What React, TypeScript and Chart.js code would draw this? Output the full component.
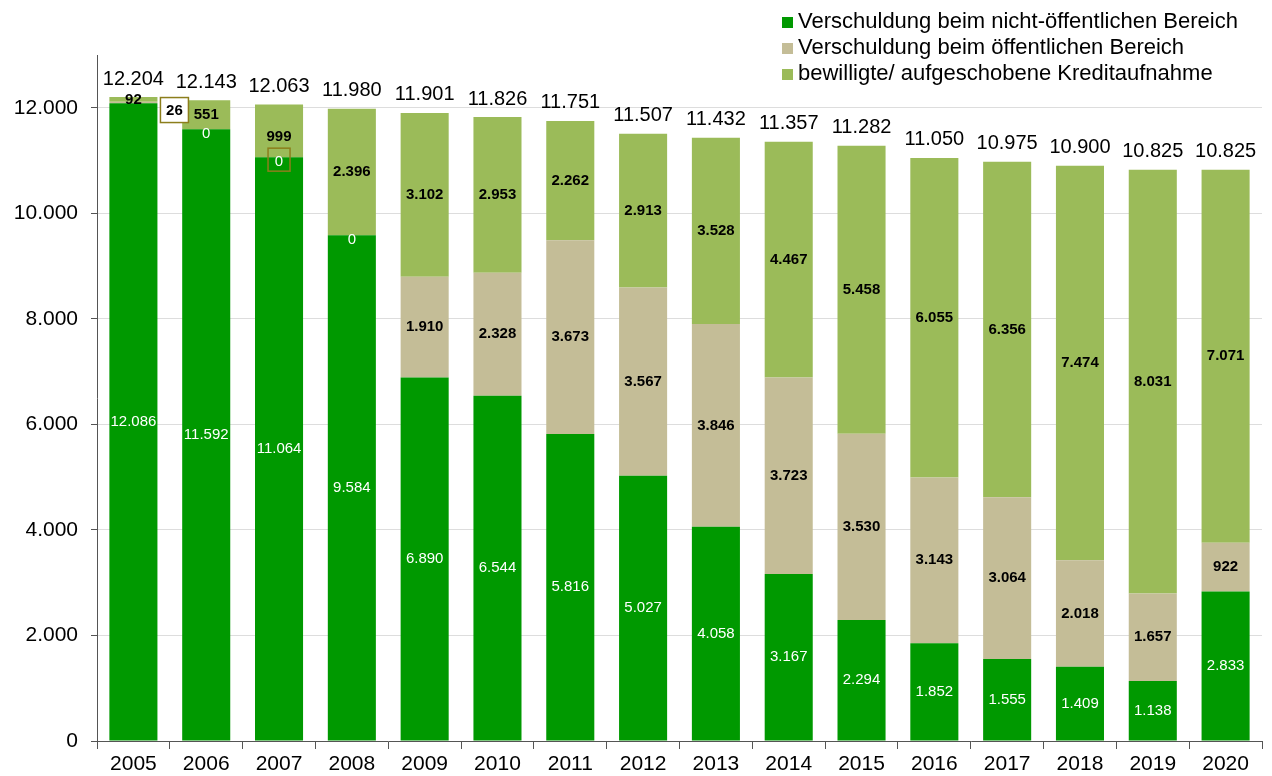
import React, { useEffect, useRef } from "react";
import { Chart, registerables } from "chart.js";

Chart.register(...registerables);

const years = ["2005", "2006", "2007", "2008", "2009", "2010", "2011", "2012", "2013", "2014", "2015", "2016", "2017", "2018", "2019", "2020"];
const nichtOeffentlich = [12086, 11592, 11064, 9584, 6890, 6544, 5816, 5027, 4058, 3167, 2294, 1852, 1555, 1409, 1138, 2833];
const oeffentlich = [26, 0, 0, 0, 1910, 2328, 3673, 3567, 3846, 3723, 3530, 3143, 3064, 2018, 1657, 922];
const bewilligt = [92, 551, 999, 2396, 3102, 2953, 2262, 2913, 3528, 4467, 5458, 6055, 6356, 7474, 8031, 7071];
const totals = [12204, 12143, 12063, 11980, 11901, 11826, 11751, 11507, 11432, 11357, 11282, 11050, 10975, 10900, 10825, 10825];
const yTickValues = [0, 2000, 4000, 6000, 8000, 10000, 12000];
const seriesNames = [
  "Verschuldung beim nicht-öffentlichen Bereich",
  "Verschuldung beim öffentlichen Bereich",
  "bewilligte/ aufgeschobene Kreditaufnahme",
];
const colors = ["#009900", "#C4BD97", "#9BBB59"];
const FONT = '"Liberation Sans", Arial, sans-serif';

const fmt = (n: number) => String(n).replace(/\B(?=(\d{3})+(?!\d))/g, ".");

const labelPlugin = {
  id: "segLabels",
  afterDatasetsDraw(chart: any) {
    const ctx = chart.ctx;
    ctx.save();
    ctx.textAlign = "center";
    ctx.textBaseline = "middle";
    chart.data.datasets.forEach((ds: any, di: number) => {
      const meta = chart.getDatasetMeta(di);
      meta.data.forEach((el: any, i: number) => {
        const v = ds.data[i];
        const cx = el.x;
        const cy = (el.y + el.base) / 2;
        if (di === 0) {
          ctx.font = `15px ${FONT}`;
          ctx.fillStyle = "#ffffff";
          ctx.fillText(fmt(v), cx, cy);
        } else if (di === 1) {
          if (v === 0) {
            ctx.font = `15px ${FONT}`;
            ctx.fillStyle = "#ffffff";
            ctx.fillText("0", cx, el.y + 5);
            if (i === 2) {
              ctx.strokeStyle = "#8C7E1C";
              ctx.lineWidth = 1.5;
              ctx.strokeRect(cx - 11, el.y - 9, 22, 23);
            }
          } else if (i === 0) {
            const bx = el.x + el.width / 2 + 3;
            const by = cy - 5;
            ctx.fillStyle = "#ffffff";
            ctx.fillRect(bx, by, 28, 25);
            ctx.strokeStyle = "#8C7E1C";
            ctx.lineWidth = 1.5;
            ctx.strokeRect(bx, by, 28, 25);
            ctx.font = `bold 15px ${FONT}`;
            ctx.fillStyle = "#000000";
            ctx.fillText(fmt(v), bx + 14, by + 13);
          } else {
            ctx.font = `bold 15px ${FONT}`;
            ctx.fillStyle = "#000000";
            ctx.fillText(fmt(v), cx, cy);
          }
        } else {
          ctx.font = `bold 15px ${FONT}`;
          ctx.fillStyle = "#000000";
          ctx.fillText(fmt(v), cx, i === 2 ? cy + 6 : cy);
        }
      });
    });
    const last = chart.getDatasetMeta(chart.data.datasets.length - 1);
    ctx.font = `20px ${FONT}`;
    ctx.fillStyle = "#000000";
    ctx.textBaseline = "bottom";
    last.data.forEach((el: any, i: number) => {
      ctx.fillText(fmt(totals[i]), el.x, el.y - 8);
    });
    ctx.restore();
  },
};

const legendPlugin = {
  id: "customLegend",
  afterDraw(chart: any) {
    const ctx = chart.ctx;
    ctx.save();
    ctx.font = `22px ${FONT}`;
    ctx.textAlign = "left";
    ctx.textBaseline = "middle";
    seriesNames.forEach((name, i) => {
      const y = 22 + i * 26;
      ctx.fillStyle = colors[i];
      ctx.fillRect(782, y - 5, 11, 11);
      ctx.fillStyle = "#000000";
      ctx.fillText(name, 798, y);
    });
    ctx.restore();
  },
};

export default function App() {
  const ref = useRef<HTMLCanvasElement | null>(null);
  useEffect(() => {
    if (!ref.current) return;
    const chart = new Chart(ref.current, {
      type: "bar",
      data: {
        labels: years,
        datasets: [
          { label: seriesNames[0], data: nichtOeffentlich, backgroundColor: colors[0] },
          { label: seriesNames[1], data: oeffentlich, backgroundColor: colors[1] },
          { label: seriesNames[2], data: bewilligt, backgroundColor: colors[2] },
        ].map((d) => ({ ...d, barPercentage: 0.66, categoryPercentage: 1, borderWidth: 0 })),
      },
      options: {
        animation: false,
        responsive: false,
        maintainAspectRatio: false,
        layout: { padding: { top: 55, right: 10, left: 0, bottom: 0 } },
        plugins: { legend: { display: false }, tooltip: { enabled: false } },
        scales: {
          x: {
            stacked: true,
            afterFit: (s: any) => { s.height = 35; },
            grid: { display: true, drawOnChartArea: false, drawTicks: true, tickLength: 8, tickColor: "#555555", offset: true },
            border: { color: "#555555", width: 1 },
            ticks: { color: "#000000", font: { family: FONT, size: 21 }, padding: 3, maxRotation: 0 },
          },
          y: {
            stacked: true,
            min: 0,
            max: 13000,
            afterFit: (s: any) => { s.width = 97; },
            afterBuildTicks: (s: any) => { s.ticks = yTickValues.map((v) => ({ value: v })); },
            grid: { color: "#DDDDDD", tickColor: "#555555", tickLength: 6, drawTicks: true },
            border: { color: "#555555", width: 1 },
            ticks: { autoSkip: false, color: "#000000", font: { family: FONT, size: 21 }, padding: 13, callback: (v: any) => fmt(Number(v)) },
          },
        },
      },
      plugins: [labelPlugin, legendPlugin],
    });
    return () => chart.destroy();
  }, []);
  return (
    <div style={{ position: "fixed", left: 0, top: 0, width: 1272, height: 776, background: "#ffffff" }}>
      <canvas ref={ref} width={1272} height={776} style={{ display: "block" }} />
    </div>
  );
}
